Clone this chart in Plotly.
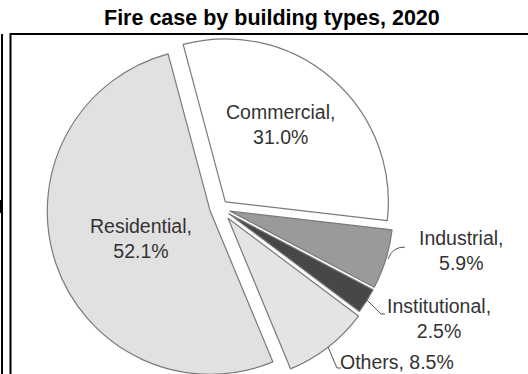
import plotly.graph_objects as go

# ---- data ----
categories = ["Commercial", "Industrial", "Institutional", "Others", "Residential"]
shares = [31.0, 5.9, 2.5, 8.5, 52.1]
colors = ["#ffffff", "#9a9a9a", "#474747", "#e4e4e4", "#e1e1e1"]
pulls = [0.05, 0.065, 0.065, 0.08, 0.063]
title_text = "Fire case by building types, 2020"

W, H = 528, 400


def px(x):
    return x / W


def py(y):
    return 1 - y / H


# pie box geometry (pixels)
cx, cy, r = 220, 208, 163
box = r * (2 + 2 * max(pulls))

fig = go.Figure(go.Pie(
    labels=categories,
    values=shares,
    sort=False,
    direction="clockwise",
    rotation=-15,
    pull=pulls,
    marker=dict(colors=colors, line=dict(color="#7a7a7a", width=1.2)),
    textinfo="none",
    hoverinfo="label+percent",
    showlegend=False,
    domain=dict(x=[px(cx - box / 2), px(cx + box / 2)],
                y=[py(cy + box / 2), py(cy - box / 2)]),
))

label_font = dict(family="Liberation Sans, Arial, sans-serif", size=19.5, color="#333333")


def lab(i, sep="<br>"):
    return f"{categories[i]},{sep}{shares[i]:.1f}%"


label_pos = {
    0: (280, 124, "<br>"),
    4: (141, 238, "<br>"),
    1: (461, 251, "<br>"),
    2: (439, 318, "<br>"),
    3: (397, 362, " "),
}
annotations = []
for i, (x, y, sep) in label_pos.items():
    annotations.append(dict(
        x=px(x), y=py(y), xref="paper", yref="paper",
        text=lab(i, sep), showarrow=False, font=label_font,
        xanchor="center", yanchor="middle", align="center",
    ))

annotations.append(dict(
    x=px(272), y=py(18), xref="paper", yref="paper",
    text="<b>" + title_text + "</b>", showarrow=False,
    font=dict(family="Liberation Sans, Arial, sans-serif", size=21.5, color="#000000"),
    xanchor="center", yanchor="middle",
))

shapes = [
    # frame box
    dict(type="rect", xref="paper", yref="paper",
         x0=px(10.5), x1=px(560), y0=py(34), y1=py(420),
         line=dict(color="#000000", width=2)),
    # neighbouring panel edge
    dict(type="line", xref="paper", yref="paper",
         x0=px(2), x1=px(2), y0=py(34), y1=py(420),
         line=dict(color="#000000", width=2)),
    dict(type="rect", xref="paper", yref="paper",
         x0=px(0), x1=px(3), y0=py(200), y1=py(213),
         fillcolor="#000000", line=dict(width=0)),
    # leader lines
    dict(type="path", xref="paper", yref="paper",
         path=f"M {px(388)} {py(259)} Q {px(392)} {py(247)} {px(405)} {py(247)}",
         line=dict(color="#555555", width=1)),
    dict(type="path", xref="paper", yref="paper",
         path=f"M {px(367)} {py(300)} L {px(381)} {py(314)} L {px(385)} {py(314)}",
         line=dict(color="#555555", width=1)),
    dict(type="path", xref="paper", yref="paper",
         path=f"M {px(328)} {py(347)} L {px(337)} {py(368)} L {px(341)} {py(368)}",
         line=dict(color="#555555", width=1)),
]

fig.update_layout(
    width=W, height=H,
    margin=dict(l=0, r=0, t=0, b=0),
    paper_bgcolor="#ffffff",
    plot_bgcolor="#ffffff",
    annotations=annotations,
    shapes=shapes,
)

fig.write_html(
    "out.html",
    post_script="document.body.style.margin='0';document.body.style.overflow='hidden';"
                "document.documentElement.style.overflow='hidden';",
)
